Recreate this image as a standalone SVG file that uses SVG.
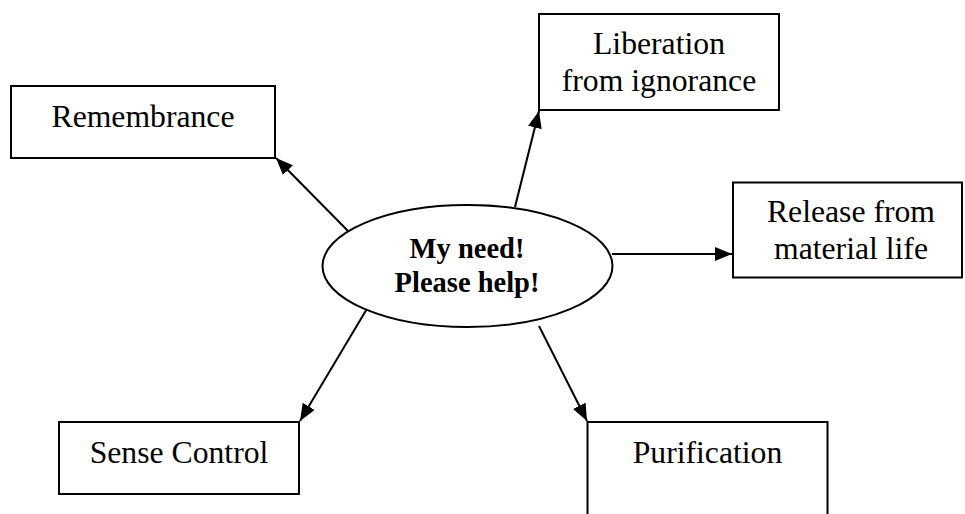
<svg xmlns="http://www.w3.org/2000/svg" width="965" height="514" viewBox="0 0 965 514">
<style>
.box{fill:#fff;stroke:#000;stroke-width:2}
.lbl{font-family:"Liberation Serif","Times New Roman",serif;font-size:31.7px;fill:#000;text-anchor:middle}
.hub{font-family:"Liberation Serif","Times New Roman",serif;font-size:28.5px;font-weight:bold;fill:#000;text-anchor:middle}
.edge{stroke:#000;stroke-width:2;fill:none;marker-end:url(#arr)}
</style>
<defs>
<marker id="arr" markerUnits="userSpaceOnUse" markerWidth="18" markerHeight="15" refX="17" refY="7" orient="auto">
<path d="M0,0 L17,7 L0,14 z" fill="#000"/>
</marker>
</defs>
<rect width="965" height="514" fill="#fff"/>
<g id="connectors">
<line class="edge" x1="348" y1="231" x2="276" y2="158"/>
<line class="edge" x1="515" y1="207" x2="539" y2="111"/>
<line class="edge" x1="612" y1="254" x2="732" y2="254"/>
<line class="edge" x1="371" y1="302" x2="300" y2="421"/>
<line class="edge" x1="539" y1="326" x2="587" y2="421"/>
</g>
<g id="hub">
<ellipse class="box" cx="467.5" cy="266" rx="145" ry="61"/>
<text class="hub" x="467" y="258">My need!</text>
<text class="hub" x="467" y="291.5">Please help!</text>
</g>
<g id="remembrance">
<rect class="box" x="11" y="86" width="264" height="72"/>
<text class="lbl" x="143" y="126.5">Remembrance</text>
</g>
<g id="liberation">
<rect class="box" x="539" y="14" width="240" height="96"/>
<text class="lbl" x="659" y="54.3">Liberation</text>
<text class="lbl" x="659" y="90.7">from ignorance</text>
</g>
<g id="release">
<rect class="box" x="733" y="182.5" width="229" height="95"/>
<text class="lbl" x="851" y="221.7">Release from</text>
<text class="lbl" x="851" y="259.3">material life</text>
</g>
<g id="sense-control">
<rect class="box" x="59" y="422" width="240" height="72"/>
<text class="lbl" x="179" y="462.7">Sense Control</text>
</g>
<g id="purification">
<path class="box" d="M587.5,520 V422 H827.5 V520"/>
<text class="lbl" x="707.5" y="462.7">Purification</text>
</g>
</svg>
